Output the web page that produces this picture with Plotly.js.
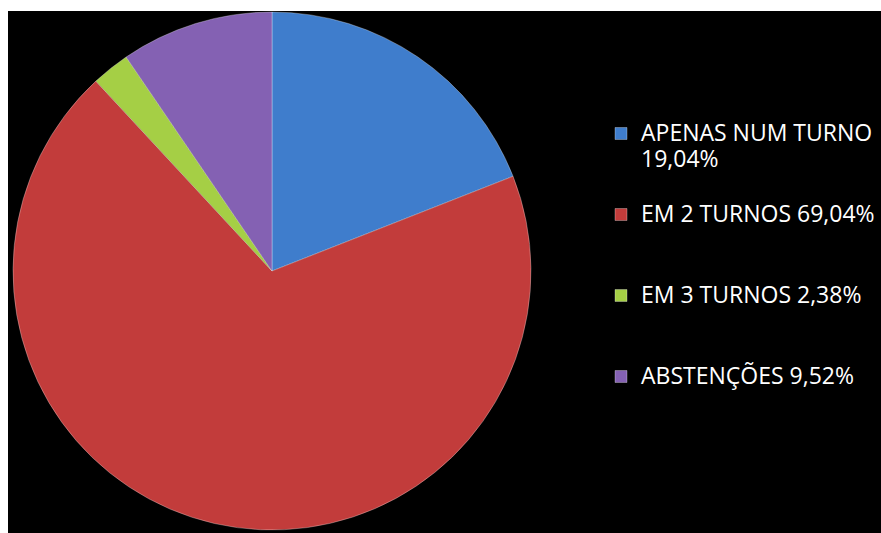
<!DOCTYPE html>
<html>
<head>
<meta charset="utf-8">
<script src="https://cdn.plot.ly/plotly-3.0.1.min.js"></script>
<style>html,body{margin:0;padding:0;background:#fff;}#chart{width:881px;height:533px;}</style>
</head>
<body>
<div id="chart"></div>
<script>
const categories = ["APENAS NUM TURNO", "EM 2 TURNOS", "EM 3 TURNOS", "ABSTENÇÕES"];
const values = [19.04, 69.04, 2.38, 9.52];
const percentLabels = ["19,04%", "69,04%", "2,38%", "9,52%"];
const colors = ["#3f7dcc", "#c23c3b", "#a5cf45", "#8461b3"];

const big = s => "<span style='font-size:23px'>" + s + "</span>";
const legendLabels = [
  big(categories[0]) + "<br>" + big(percentLabels[0]) + "<br> ",
  big(categories[1] + " " + percentLabels[1]) + "<br> <br> ",
  big(categories[2] + " " + percentLabels[2]) + "<br> <br> ",
  big(categories[3] + " " + percentLabels[3])
];

const W = 881, H = 533;
const trace = {
  type: "pie",
  labels: legendLabels,
  values: values,
  sort: false,
  direction: "clockwise",
  rotation: 0,
  textinfo: "none",
  hoverinfo: "label+percent",
  marker: {colors: colors, line: {color: "rgba(255,255,255,0.3)", width: 1}},
  domain: {x: [13 / W, 531 / W], y: [1 - 530 / H, 1 - 12 / H]}
};

const layout = {
  width: W, height: H,
  margin: {l: 0, r: 0, t: 0, b: 0},
  paper_bgcolor: "#ffffff",
  font: {family: "'Open Sans', Lato, sans-serif", color: "#ffffff"},
  shapes: [{
    type: "rect", xref: "paper", yref: "paper", layer: "below",
    x0: 8 / W, x1: 1, y0: 0, y1: 1 - 11 / H,
    fillcolor: "#000000", line: {width: 0}
  }],
  showlegend: true,
  legend: {
    x: 601 / W, y: 1 - 114 / H, xanchor: "left", yanchor: "top",
    bgcolor: "rgba(0,0,0,0)", valign: "top",
    font: {family: "'Open Sans', Lato, sans-serif", size: 20, color: "#ffffff"},
    itemwidth: 30
  }
};

Plotly.newPlot("chart", [trace], layout, {displayModeBar: false, staticPlot: true});
</script>
</body>
</html>
